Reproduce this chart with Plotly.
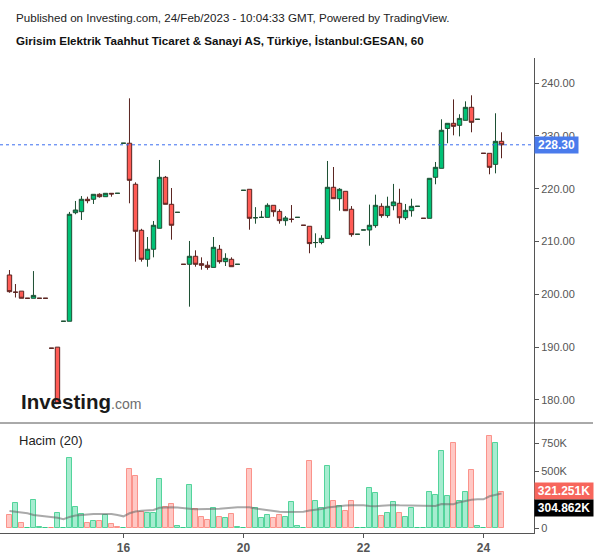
import plotly.graph_objects as go

# ---------------- data ----------------
opens = [203.66, 200.4, 200.6, 199.25, 199.25, 199.25, 199.25, 189.8, 190.0, 194.9,
         194.9, 215.45, 215.64, 217.99, 217.99, 218.93, 218.48, 219.12, 219.12, 228.6,
         228.6, 220.83, 212.12, 206.63, 208.53, 212.5, 222.15, 217.04, 215.52, 205.68,
         205.68, 207.2, 205.8, 205.5, 205.1, 208.53, 206.18, 206.63, 205.68, 219.69,
         219.88, 214.5, 214.57, 214.57, 216.85, 215.7, 213.94, 214.2, 214.57, 213.07,
         212.88, 209.8, 209.8, 210.58, 220.26, 218.1, 219.5, 216.1, 211.37, 212.18,
         212.18, 213.0, 216.66, 214.9, 216.78, 217.23, 214.5, 215.83, 216.66, 214.39,
         214.39, 222.15, 223.85, 231.4, 232.37, 231.99, 232.94, 235.4, 233.13, 226.69,
         226.69, 224.6, 228.96]
highs = [204.6, 201.95, 200.6, 199.25, 204.4, 199.25, 199.25, 189.8, 190.0, 194.9,
         215.6, 217.67, 218.6, 218.48, 218.93, 219.12, 219.12, 219.12, 219.12, 228.6,
         237.1, 221.2, 212.4, 210.85, 213.88, 225.43, 222.4, 220.12, 215.52, 205.68,
         210.1, 208.33, 207.0, 206.25, 210.85, 209.34, 207.77, 207.0, 205.68, 219.69,
         219.88, 216.5, 215.8, 217.23, 216.85, 216.1, 214.83, 216.9, 214.57, 213.07,
         212.88, 211.55, 211.17, 225.24, 224.1, 220.1, 219.5, 216.7, 211.37, 212.18,
         216.98, 218.86, 217.23, 218.48, 220.9, 219.98, 217.1, 218.1, 216.66, 214.39,
         221.96, 225.05, 233.13, 232.37, 236.9, 234.08, 236.53, 237.67, 233.13, 226.69,
         226.69, 234.27, 230.67]
lows = [200.3, 199.4, 199.25, 199.25, 199.25, 199.25, 199.25, 189.8, 179.3, 194.9,
        194.9, 215.15, 214.07, 217.23, 217.1, 218.3, 218.48, 218.48, 219.12, 228.6,
        217.23, 206.18, 206.18, 205.23, 207.0, 212.5, 217.04, 210.34, 215.52, 205.68,
        197.66, 205.23, 204.66, 204.66, 205.1, 205.8, 205.36, 205.23, 205.68, 219.69,
        212.23, 213.37, 214.57, 214.57, 214.7, 213.37, 212.99, 213.6, 214.57, 213.07,
        207.77, 208.83, 209.47, 210.58, 218.1, 215.83, 215.83, 210.9, 211.37, 212.18,
        209.2, 212.6, 214.5, 214.5, 215.9, 213.37, 214.07, 214.7, 216.66, 214.39,
        214.39, 220.83, 223.85, 228.6, 230.1, 229.9, 232.94, 230.67, 233.13, 226.69,
        222.72, 222.9, 225.75]
closes = [200.5, 200.4, 199.25, 199.25, 199.8, 199.25, 199.25, 189.8, 179.3, 194.9,
          215.15, 215.96, 217.99, 217.72, 218.93, 218.48, 219.12, 219.0, 219.12, 228.6,
          221.58, 211.93, 206.63, 208.53, 213.07, 222.15, 217.04, 213.07, 215.52, 205.68,
          207.2, 205.68, 205.5, 205.1, 208.9, 206.18, 206.81, 205.23, 205.68, 219.69,
          214.39, 214.5, 214.57, 216.85, 215.64, 213.94, 214.45, 214.2, 214.57, 213.07,
          209.6, 209.8, 210.6, 220.26, 218.1, 219.88, 215.83, 211.3, 211.37, 212.18,
          213.07, 216.85, 214.9, 216.66, 217.48, 214.5, 215.9, 216.66, 216.66, 214.39,
          221.96, 224.04, 231.05, 232.37, 231.8, 233.3, 235.4, 232.56, 233.13, 226.69,
          224.04, 228.96, 228.3]
volumes_k = [115, 218, 41, 3, 244, 9, 3, 1, 129, 1,
             615, 182, 121, 41, 59, 59, 112, 35, 9, 1,
             518, 456, 144, 129, 129, 430, 188, 209, 15, 1,
             377, 165, 100, 71, 174, 94, 85, 121, 9, 1,
             518, 174, 85, 112, 85, 112, 94, 227, 18, 1,
             589, 238, 174, 547, 238, 197, 150, 238, 3, 1,
             350, 306, 103, 129, 227, 129, 94, 174, 3, 1,
             315, 288, 677, 280, 747, 235, 315, 509, 15, 1,
             809, 747, 321.251]
vol_dir = list("rgrggggrgg" "gggrgrgrrg" "rrrgggrrgg" "grrrgrgrgg"
               "rgggrrgggg" "rgggrgrrgg" "ggrggrgggg" "ggggrggrgg" "rgr")
vol_ma_k = [150, 145, 138, 130, 115, 108, 100, 95, 91, 77,
            98, 110, 117, 120, 124, 126, 126, 124, 115, 103,
            130, 145, 153, 155, 159, 178, 182, 183, 180, 172,
            170, 165, 165, 167, 170, 171, 175, 182, 183, 183,
            183, 172, 165, 158, 147, 143, 141, 141, 141, 143,
            155, 160, 168, 180, 187, 195, 198, 200, 203, 200,
            195, 192, 196, 200, 203, 200, 198, 197, 196, 194,
            192, 194, 212, 208, 210, 228, 240, 250, 253, 253,
            280, 295, 304.862]
tick_idx = [19, 39, 59, 79]
tick_labels = ["16", "20", "22", "24"]
price_ticks = [180, 190, 200, 210, 220, 230, 240]
vol_ticks_k = [0, 500, 750]
last_price = 228.30
last_vol_k = 321.251
last_ma_k = 304.862

title_line1 = "Published on Investing.com, 24/Feb/2023 - 10:04:33 GMT, Powered by TradingView."
title_line2 = "Girisim Elektrik Taahhut Ticaret & Sanayi AS, Türkiye, İstanbul:GESAN, 60"

# ---------------- figure ----------------
W, H = 600, 558
n = len(opens)
xs = list(range(n))
vols = [v * 1000 for v in volumes_k]
vma = [v * 1000 for v in vol_ma_k]

def py(pix):  # pixel-from-top -> paper y
    return 1 - pix / H

def px(pix):
    return pix / W

FONT = "Liberation Sans, Arial, sans-serif"

fig = go.Figure()
fig.add_trace(go.Candlestick(
    x=xs, open=opens, high=highs, low=lows, close=closes,
    increasing=dict(fillcolor="#00c176", line=dict(color="#1d4f33", width=1)),
    decreasing=dict(fillcolor="#ff5b55", line=dict(color="#5a2420", width=1)),
    whiskerwidth=0, xaxis="x", yaxis="y", hoverinfo="skip", showlegend=False,
))

fill = {"g": "rgba(0,200,120,0.35)", "r": "rgba(255,110,100,0.38)"}
edge = {"g": "rgba(40,200,130,0.75)", "r": "rgba(250,120,110,0.75)"}
fig.add_trace(go.Bar(
    x=xs, y=vols, width=0.82,
    marker=dict(color=[fill[d] for d in vol_dir],
                line=dict(color=[edge[d] for d in vol_dir], width=1)),
    xaxis="x", yaxis="y2", hoverinfo="skip", showlegend=False,
))
fig.add_trace(go.Scatter(
    x=xs, y=vma, mode="lines", line=dict(color="rgba(100,100,100,0.55)", width=2),
    xaxis="x", yaxis="y2", hoverinfo="skip", showlegend=False,
))

x_right = 534
price_top, sep_y, vol_bot = 58, 423, 533
ppu = 5.283
pmax = 240 + (83 - price_top) / ppu
pmin = 240 - (sep_y - 83) / ppu
vpk = 0.1133  # px per K
vmax = (528 - sep_y) / vpk * 1000
vmin = -(vol_bot - 528) / vpk * 1000

axfont = dict(family=FONT, size=11, color="#555555")

fig.update_layout(
    width=W, height=H, margin=dict(l=0, r=0, t=0, b=0),
    paper_bgcolor="white", plot_bgcolor="white",
    showlegend=False, bargap=0, boxgap=0.27, boxgroupgap=0,
    xaxis=dict(domain=[0, px(x_right)], range=[-1.58, (x_right - 9.5) / 6],
               anchor="y2", rangeslider=dict(visible=False),
               showgrid=False, zeroline=False, showline=True, linecolor="#555555", linewidth=1,
               tickmode="array", tickvals=tick_idx, ticktext=tick_labels,
               ticks="outside", ticklen=4, tickcolor="#555555",
               tickfont=dict(family=FONT, size=12, color="#555555", weight="bold")),
    yaxis=dict(domain=[py(sep_y), py(price_top)], range=[pmin, pmax], side="right",
               anchor="x", showgrid=False, zeroline=False, showline=True,
               linecolor="#555555", linewidth=1,
               tickmode="array", tickvals=price_ticks,
               ticktext=["%.2f" % t for t in price_ticks],
               ticks="outside", ticklen=4, tickcolor="#555555", tickfont=axfont),
    yaxis2=dict(domain=[py(vol_bot), py(sep_y)], range=[vmin, vmax], side="right",
                anchor="x", showgrid=False, zeroline=False, showline=True,
                linecolor="#555555", linewidth=1,
                tickmode="array", tickvals=[v * 1000 for v in vol_ticks_k],
                ticktext=[("%dK" % v) if v else "0" for v in vol_ticks_k],
                ticks="outside", ticklen=4, tickcolor="#555555", tickfont=axfont),
)

shapes = [
    dict(type="line", xref="paper", yref="paper", x0=0, x1=px(593), y0=py(sep_y), y1=py(sep_y),
         line=dict(color="#555555", width=1)),
    dict(type="line", xref="paper", yref="y", x0=0, x1=px(x_right), y0=last_price, y1=last_price,
         line=dict(color="#3a6df0", width=1, dash="dot")),
]
fig.update_layout(shapes=shapes)

ann = [
    dict(text=title_line1, xref="paper", yref="paper", x=px(14), y=py(17), xanchor="left",
         yanchor="middle", showarrow=False,
         font=dict(family=FONT, size=11.6, color="#222222")),
    dict(text="<b>" + title_line2 + "</b>", xref="paper", yref="paper", x=px(14), y=py(41),
         xanchor="left", yanchor="middle", showarrow=False,
         font=dict(family=FONT, size=11.6, color="#111111")),
    dict(text="Hacim (20)", xref="paper", yref="paper", x=px(17), y=py(440), xanchor="left",
         yanchor="middle", showarrow=False,
         font=dict(family=FONT, size=13, color="#222222")),
    dict(text="<b>%.2f</b>" % last_price, xref="paper", yref="y", x=px(x_right), y=last_price,
         xanchor="left", yanchor="middle", showarrow=False, bgcolor="#4a7bec",
         borderpad=1, width=41, align="center",
         font=dict(family=FONT, size=12, color="white")),
    dict(text="<b>%.3fK</b>" % last_vol_k, xref="paper", yref="paper", x=px(x_right), y=py(491),
         xanchor="left", yanchor="middle", showarrow=False, bgcolor="#f7665c",
         borderpad=1, width=56, align="center",
         font=dict(family=FONT, size=12, color="white")),
    dict(text="<b>%.3fK</b>" % last_ma_k, xref="paper", yref="paper", x=px(x_right), y=py(508),
         xanchor="left", yanchor="middle", showarrow=False, bgcolor="#000000",
         borderpad=1, width=56, align="center",
         font=dict(family=FONT, size=12, color="white")),
    dict(text="<b>Investing</b><span style='font-size:14px;color:#6d6d6d'>.com</span>",
         xref="paper", yref="paper", x=px(19), y=py(401), xanchor="left", yanchor="middle",
         showarrow=False,
         font=dict(family=FONT, size=20.5, color="#1a1a1a")),
]
fig.update_layout(annotations=ann)

fig.write_html("out.html")
